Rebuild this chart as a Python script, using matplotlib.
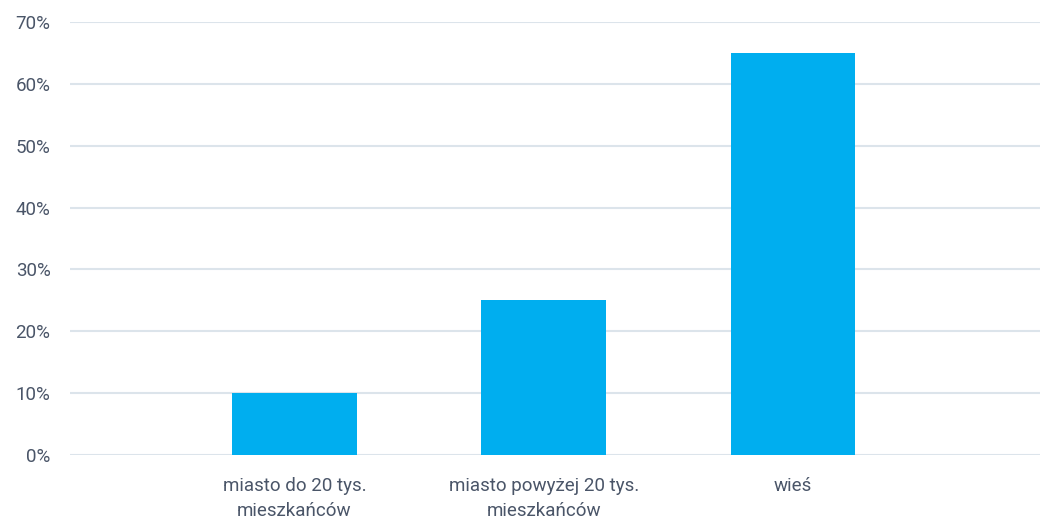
import matplotlib
matplotlib.use("Agg")
import matplotlib.pyplot as plt
from matplotlib.ticker import FuncFormatter, MultipleLocator

categories = ["miasto do 20 tys.\nmieszkańców", "miasto powyżej 20 tys.\nmieszkańców", "wieś"]
values = [0.10, 0.25, 0.65]

plt.rcParams['font.family'] = ['Roboto', 'DejaVu Sans']
text_color = "#4a5568"
grid_color = "#dce4eb"
bar_color = "#00aeef"

fig = plt.figure(figsize=(10.56, 5.19), dpi=100)
ax = fig.add_axes([70/1056, 1-455/519, (1040-70)/1056, (455-22)/519])

x = list(range(len(categories)))
ax.bar(x, values, width=0.5, color=bar_color, zorder=3)
ax.set_xlim(-0.9, 2.99)
ax.set_ylim(0, 0.70)
ax.yaxis.set_major_locator(MultipleLocator(0.1))
ax.yaxis.set_major_formatter(FuncFormatter(lambda v, p: f"{round(v*100)}%"))
ax.set_xticks(x)
ax.set_xticklabels(categories)
ax.grid(axis='y', color=grid_color, linewidth=1.5, zorder=0)
for s in ax.spines.values():
    s.set_visible(False)
ax.tick_params(axis='both', length=0, labelsize=13.5, colors=text_color)
ax.tick_params(axis='y', pad=14)
ax.tick_params(axis='x', pad=16)
for lbl in ax.get_xticklabels():
    lbl.set_linespacing(1.5)

fig.savefig("out.png", dpi=100)
